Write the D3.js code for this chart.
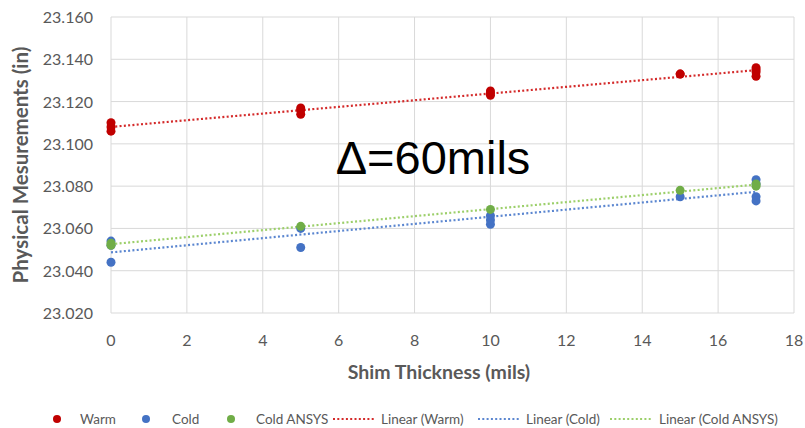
<!DOCTYPE html>
<html>
<head>
<meta charset="utf-8">
<script src="https://cdn.jsdelivr.net/npm/d3@7"></script>
<style>
  html, body { margin: 0; padding: 0; background: #fff; }
  svg { display: block; }
</style>
</head>
<body>
<div id="chart"></div>
<script>
// Shim thickness (mils) and measurements (in) for each series
const warmShim  = [0, 0, 0, 5, 5, 5, 10, 10, 10, 15, 15, 17, 17, 17, 17];
const warmVals  = [23.110, 23.108, 23.106, 23.117, 23.116, 23.114, 23.125, 23.124, 23.123, 23.133, 23.133, 23.136, 23.135, 23.134, 23.132];
const coldShim  = [0, 0, 0, 5, 5, 10, 10, 10, 15, 17, 17, 17, 17];
const coldVals  = [23.054, 23.052, 23.044, 23.060, 23.051, 23.066, 23.064, 23.062, 23.075, 23.083, 23.081, 23.075, 23.073];
const ansysShim = [0, 0, 5, 10, 15, 17, 17];
const ansysVals = [23.053, 23.052, 23.061, 23.069, 23.078, 23.080, 23.081];

const xTicks = [0, 2, 4, 6, 8, 10, 12, 14, 16, 18];
const yTicks = [23.02, 23.04, 23.06, 23.08, 23.10, 23.12, 23.14, 23.16];

const series = [
    { name: "Warm",       xs: warmShim,  ys: warmVals,  color: "#C00000", line: "#D42A2A" },
    { name: "Cold",       xs: coldShim,  ys: coldVals,  color: "#4472C4", line: "#5B86D0" },
    { name: "Cold ANSYS", xs: ansysShim, ys: ansysVals, color: "#70AD47", line: "#9CCF6A" }
];

const width = 805, height = 428;
const font = "Lato, 'Open Sans', sans-serif";

const svg = d3.select("#chart").append("svg")
    .attr("width", width)
    .attr("height", height)
    .style("font-family", font);

const x = d3.scaleLinear().domain([0, 18]).range([111, 794]);
const y = d3.scaleLinear().domain([23.02, 23.16]).range([313, 17]);

// Gridlines
svg.append("g").selectAll("line")
    .data(yTicks).enter().append("line")
    .attr("x1", x(0)).attr("x2", x(18))
    .attr("y1", d => y(d)).attr("y2", d => y(d))
    .attr("stroke", "#d9d9d9").attr("stroke-width", 1);

svg.append("g").selectAll("line")
    .data(xTicks).enter().append("line")
    .attr("x1", d => x(d)).attr("x2", d => x(d))
    .attr("y1", y(23.02)).attr("y2", y(23.16))
    .attr("stroke", "#d9d9d9").attr("stroke-width", 1);

// Tick labels
svg.append("g").selectAll("text")
    .data(yTicks).enter().append("text")
    .attr("x", 93)
    .attr("y", d => y(d) + 6)
    .attr("text-anchor", "end")
    .attr("font-size", "16px")
    .attr("fill", "#595959")
    .text(d => d3.format(".3f")(d));

svg.append("g").selectAll("text")
    .data(xTicks).enter().append("text")
    .attr("x", d => x(d))
    .attr("y", 346)
    .attr("text-anchor", "middle")
    .attr("font-size", "16px")
    .attr("fill", "#595959")
    .text(d => d);

// Axis titles
svg.append("text")
    .attr("x", 439).attr("y", 379)
    .attr("text-anchor", "middle")
    .attr("font-size", "19.5px")
    .attr("font-weight", "bold")
    .attr("fill", "#595959")
    .text("Shim Thickness (mils)");

svg.append("text")
    .attr("transform", "translate(28,165) rotate(-90)")
    .attr("text-anchor", "middle")
    .attr("font-size", "20.5px")
    .attr("font-weight", "bold")
    .attr("fill", "#595959")
    .text("Physical Mesurements (in)");

// Linear trendlines (least squares fit of each series)
function fit(xs, ys) {
    const mx = d3.mean(xs), my = d3.mean(ys);
    let sxy = 0, sxx = 0;
    xs.forEach((v, i) => { sxy += (v - mx) * (ys[i] - my); sxx += (v - mx) * (v - mx); });
    const b = sxy / sxx;
    return { a: my - b * mx, b: b };
}

const trend = svg.append("g");
series.forEach(s => {
    const f = fit(s.xs, s.ys);
    const x0 = d3.min(s.xs), x1 = d3.max(s.xs);
    trend.append("line")
        .attr("x1", x(x0)).attr("y1", y(f.a + f.b * x0))
        .attr("x2", x(x1)).attr("y2", y(f.a + f.b * x1))
        .attr("stroke", s.line)
        .attr("stroke-width", 2.2)
        .attr("stroke-dasharray", "2,2.3");
});

// Markers
series.forEach(s => {
    svg.append("g").selectAll("circle")
        .data(s.xs.map((v, i) => [v, s.ys[i]]))
        .enter().append("circle")
        .attr("cx", d => x(d[0]))
        .attr("cy", d => y(d[1]))
        .attr("r", 4.5)
        .attr("fill", s.color);
});

// Annotation
svg.append("text")
    .attr("x", 433).attr("y", 174)
    .attr("text-anchor", "middle")
    .attr("font-family", "'Liberation Sans', Arial, sans-serif")
    .attr("font-size", "47px")
    .attr("fill", "#000")
    .text("\u0394=60mils");

// Legend
const legend = svg.append("g").attr("font-size", "13.5px").attr("fill", "#595959");
const ly = 419;
const markerItems = [
    { s: series[0], cx: 57, tx: 80 },
    { s: series[1], cx: 146, tx: 172 },
    { s: series[2], cx: 231, tx: 256 }
];
markerItems.forEach(m => {
    legend.append("circle").attr("cx", m.cx).attr("cy", ly).attr("r", 4).attr("fill", m.s.color);
    legend.append("text").attr("x", m.tx).attr("y", ly + 5).text(m.s.name);
});
const lineItems = [
    { s: series[0], x0: 333, x1: 375, tx: 381 },
    { s: series[1], x0: 478, x1: 520, tx: 526 },
    { s: series[2], x0: 610, x1: 652, tx: 659 }
];
lineItems.forEach(m => {
    legend.append("line")
        .attr("x1", m.x0).attr("x2", m.x1)
        .attr("y1", ly).attr("y2", ly)
        .attr("stroke", m.s.line).attr("stroke-width", 2)
        .attr("stroke-dasharray", "2,2.3");
    legend.append("text").attr("x", m.tx).attr("y", ly + 5).text("Linear (" + m.s.name + ")");
});
</script>
</body>
</html>
